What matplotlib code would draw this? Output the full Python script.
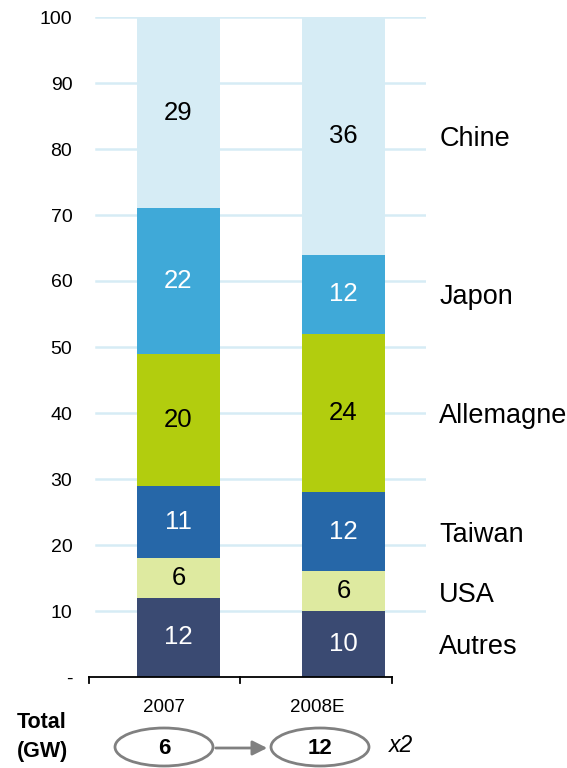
import matplotlib.pyplot as plt
from matplotlib.patches import Ellipse

plt.rcParams['font.family'] = ['Liberation Sans', 'DejaVu Sans']

# Données
annees = ['2007', '2008E']
pays = ['Autres', 'USA', 'Taiwan', 'Allemagne', 'Japon', 'Chine']
v2007 = [12, 6, 11, 20, 22, 29]
v2008 = [10, 6, 12, 24, 12, 36]
totaux = ['6', '12']
yticks = [0, 10, 20, 30, 40, 50, 60, 70, 80, 90, 100]
ylabels = ['-', '10', '20', '30', '40', '50', '60', '70', '80', '90', '100']

couleurs = ['#3A4A72', '#DEEAA0', '#2667A8', '#B2CD0E', '#3FA9D8', '#D6ECF5']
couleurs_txt = ['white', 'black', 'white', 'black', 'white', 'black']

fig = plt.figure(figsize=(5.67, 7.68), dpi=100)
ax = fig.add_axes([89/567, 91/768, 337/567, 660/768])

pos = [0, 1]
bas = [0, 0]
for i in range(len(pays)):
    vals = [v2007[i], v2008[i]]
    ax.bar(pos, vals, bottom=bas, width=0.503, color=couleurs[i], zorder=2)
    for j in range(2):
        ax.text(pos[j], bas[j] + vals[j] / 2, str(vals[j]), ha='center', va='center',
                fontsize=18.5, color=couleurs_txt[i], zorder=3)
    # étiquettes à droite
    ax.text(1.58, bas[1] + vals[1] / 2 - 0.5, pays[i], ha='left', va='center', fontsize=19.5)
    bas = [bas[0] + vals[0], bas[1] + vals[1]]

ax.set_xlim(-0.542, 1.5)
ax.set_ylim(0, 100)

# Grille
for y in yticks[1:]:
    ax.axhline(y, xmin=0.021, xmax=1, color='#D6ECF5', lw=1.8, zorder=1)

ax.set_yticks(yticks)
ax.set_yticklabels(ylabels, fontsize=14)
ax.tick_params(axis='y', length=0, pad=12)
ax.set_xticks([])
for s in ax.spines.values():
    s.set_visible(False)

# Axe x
ax.plot([-0.542, 1.294], [0, 0], color='black', lw=1.3, clip_on=False, zorder=4)
for x in [-0.542, 0.373, 1.294]:
    ax.plot([x, x], [0, -0.9], color='black', lw=1.3, clip_on=False, zorder=4)

# Années
centres = [164, 317]
for c, a in zip(centres, annees):
    fig.text(c / 567, 1 - 708 / 768, a, ha='center', va='center', fontsize=13.5)

# Total
fig.text(17 / 567, 1 - 722 / 768, 'Total', ha='left', va='center', fontsize=15.5, fontweight='bold')
fig.text(17 / 567, 1 - 752 / 768, '(GW)', ha='left', va='center', fontsize=15.5, fontweight='bold')

fa = fig.add_axes([0, 0, 1, 1], zorder=5)
fa.set_xlim(0, 567)
fa.set_ylim(768, 0)
fa.axis('off')
for c, t in zip([164, 320], totaux):
    fa.add_patch(Ellipse((c, 747), 98, 38, fill=False, ec='#808080', lw=2))
    fa.text(c, 748, t, ha='center', va='center', fontsize=16, fontweight='bold')
fa.annotate('', xy=(270, 748), xytext=(213, 748),
            arrowprops=dict(arrowstyle='-|>', color='#808080', lw=2, mutation_scale=22))
fa.text(401, 746, 'x2', ha='center', va='center', fontsize=16.5, style='italic')

fig.savefig('out.png', dpi=100)
